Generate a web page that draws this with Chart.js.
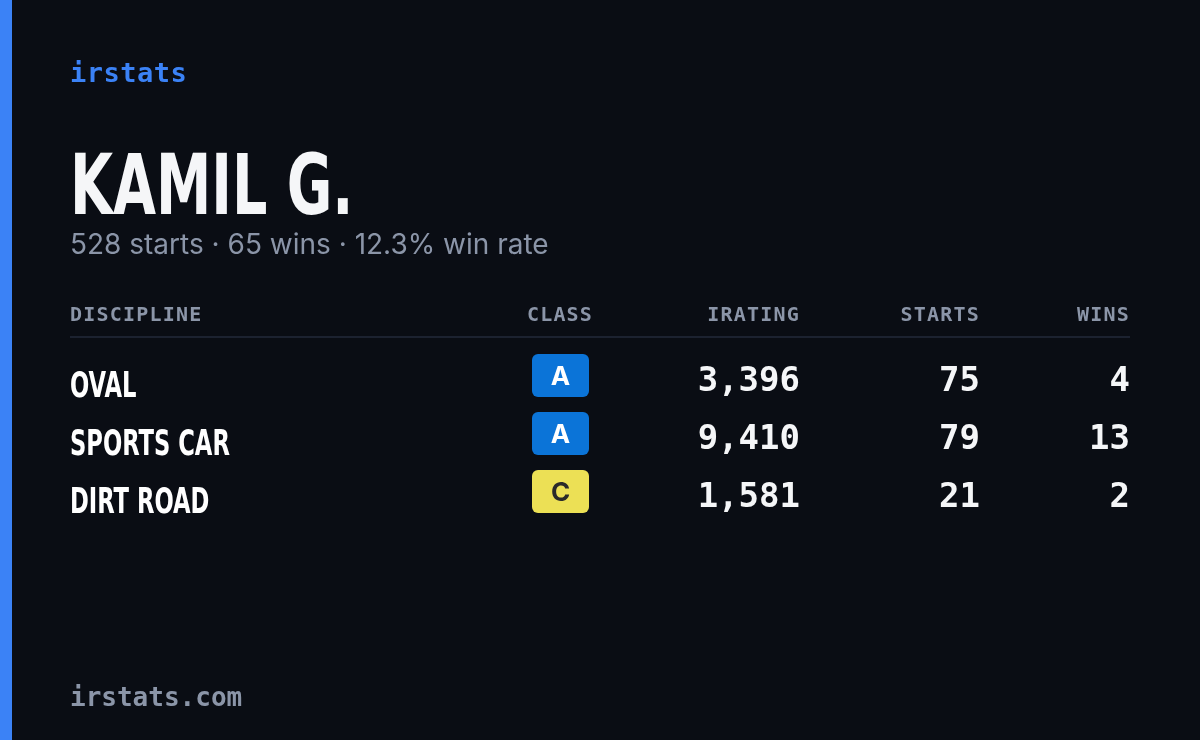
<!DOCTYPE html>
<html><head><meta charset="utf-8">
<script src="https://cdn.jsdelivr.net/npm/chart.js@4.4.1/dist/chart.umd.min.js"></script>
<style>html,body{margin:0;padding:0;background:#0a0d14;overflow:hidden}canvas{display:block}</style>
</head><body><canvas id="c" width="1200" height="740"></canvas>
<script>
const disciplines = ["OVAL", "SPORTS CAR", "DIRT ROAD"];
const classes = ["A", "A", "C"];
const iratings = [3396, 9410, 1581];
const starts = [75, 79, 21];
const wins = [4, 13, 2];
const headers = ["DISCIPLINE", "CLASS", "IRATING", "STARTS", "WINS"];
const playerName = "KAMIL G.";
const totalStarts = 528, totalWins = 65, winRate = 12.3;

const MONO = '"DejaVu Sans Mono", monospace';
const COND = '"DejaVu Sans Condensed", "Liberation Sans", sans-serif';
const SANS = 'Inter, "Noto Sans", sans-serif';
const classColors = {A: ["#0b74d8", "#ffffff"], C: ["#ece055", "#2a2a2a"], B: ["#2fa84f", "#ffffff"]};

const card = {
  id: 'card',
  beforeDraw(chart) {
    const ctx = chart.ctx;
    ctx.save();
    ctx.fillStyle = '#0a0d14'; ctx.fillRect(0, 0, 1200, 740);
    ctx.fillStyle = '#3b82f6'; ctx.fillRect(0, 0, 12, 740);
    ctx.textBaseline = 'alphabetic';
    ctx.fillStyle = '#3b82f6'; ctx.font = 'bold 27px ' + MONO; ctx.textAlign = 'left';
    ctx.letterSpacing = '0.5px';
    ctx.fillText('irstats', 70, 82);
    ctx.letterSpacing = '0px';
    ctx.fillStyle = '#f5f6f8'; ctx.font = 'bold 84px ' + COND;
    ctx.save(); ctx.translate(70, 214); ctx.scale(0.735, 1); ctx.fillText(playerName, 0, 0); ctx.restore();
    ctx.fillStyle = '#8b95a8'; ctx.font = '28px ' + SANS;
    ctx.fillText(totalStarts + ' starts · ' + totalWins + ' wins · ' + winRate.toFixed(1) + '% win rate', 70, 254);
    ctx.font = 'bold 20px ' + MONO; ctx.fillStyle = '#8b95a8'; ctx.letterSpacing = '1.2px';
    const hx = [[70,'left'],[560,'center'],[800,'right'],[980,'right'],[1130,'right']];
    headers.forEach((h, i) => { ctx.textAlign = hx[i][1]; ctx.fillText(h, hx[i][0], 321); });
    ctx.letterSpacing = '0px';
    ctx.fillStyle = '#1c2230'; ctx.fillRect(70, 336, 1060, 2);
    ctx.textAlign = 'left'; ctx.fillStyle = '#8b95a8'; ctx.font = 'bold 26px ' + MONO;
    ctx.fillText('irstats.com', 70, 706);
    const y = chart.scales.y;
    disciplines.forEach((d, i) => {
      const cy = y.getPixelForValue(i);
      ctx.fillStyle = '#ffffff'; ctx.textAlign = 'left'; ctx.font = 'bold 36px ' + COND;
      ctx.save(); ctx.translate(70, cy + 18); ctx.scale(0.70, 1); ctx.fillText(d, 0, 0); ctx.restore();
      const cc = classColors[classes[i]];
      ctx.fillStyle = cc[0]; ctx.beginPath(); ctx.roundRect(532, cy - 25, 57, 43, 6); ctx.fill();
      ctx.fillStyle = cc[1]; ctx.textAlign = 'center'; ctx.font = 'bold 26px ' + SANS;
      ctx.fillText(classes[i], 560.5, cy + 6);
      ctx.fillStyle = '#f5f6f8'; ctx.textAlign = 'right'; ctx.font = 'bold 34px ' + MONO;
      ctx.fillText(iratings[i].toLocaleString('en-US'), 800, cy + 12);
      ctx.fillText(String(starts[i]), 980, cy + 12);
      ctx.fillText(String(wins[i]), 1130, cy + 12);
    });
    ctx.restore();
  }
};

new Chart(document.getElementById('c'), {
  type: 'bar',
  data: { labels: disciplines, datasets: [{ data: iratings, backgroundColor: 'rgba(0,0,0,0)' }] },
  options: {
    indexAxis: 'y', responsive: false, animation: false, devicePixelRatio: 1,
    layout: { padding: { top: 350, bottom: 216, left: 0, right: 0 } },
    plugins: { legend: { display: false }, tooltip: { enabled: false } },
    scales: { x: { display: false }, y: { display: false, offset: true } }
  },
  plugins: [card]
});
</script></body></html>
